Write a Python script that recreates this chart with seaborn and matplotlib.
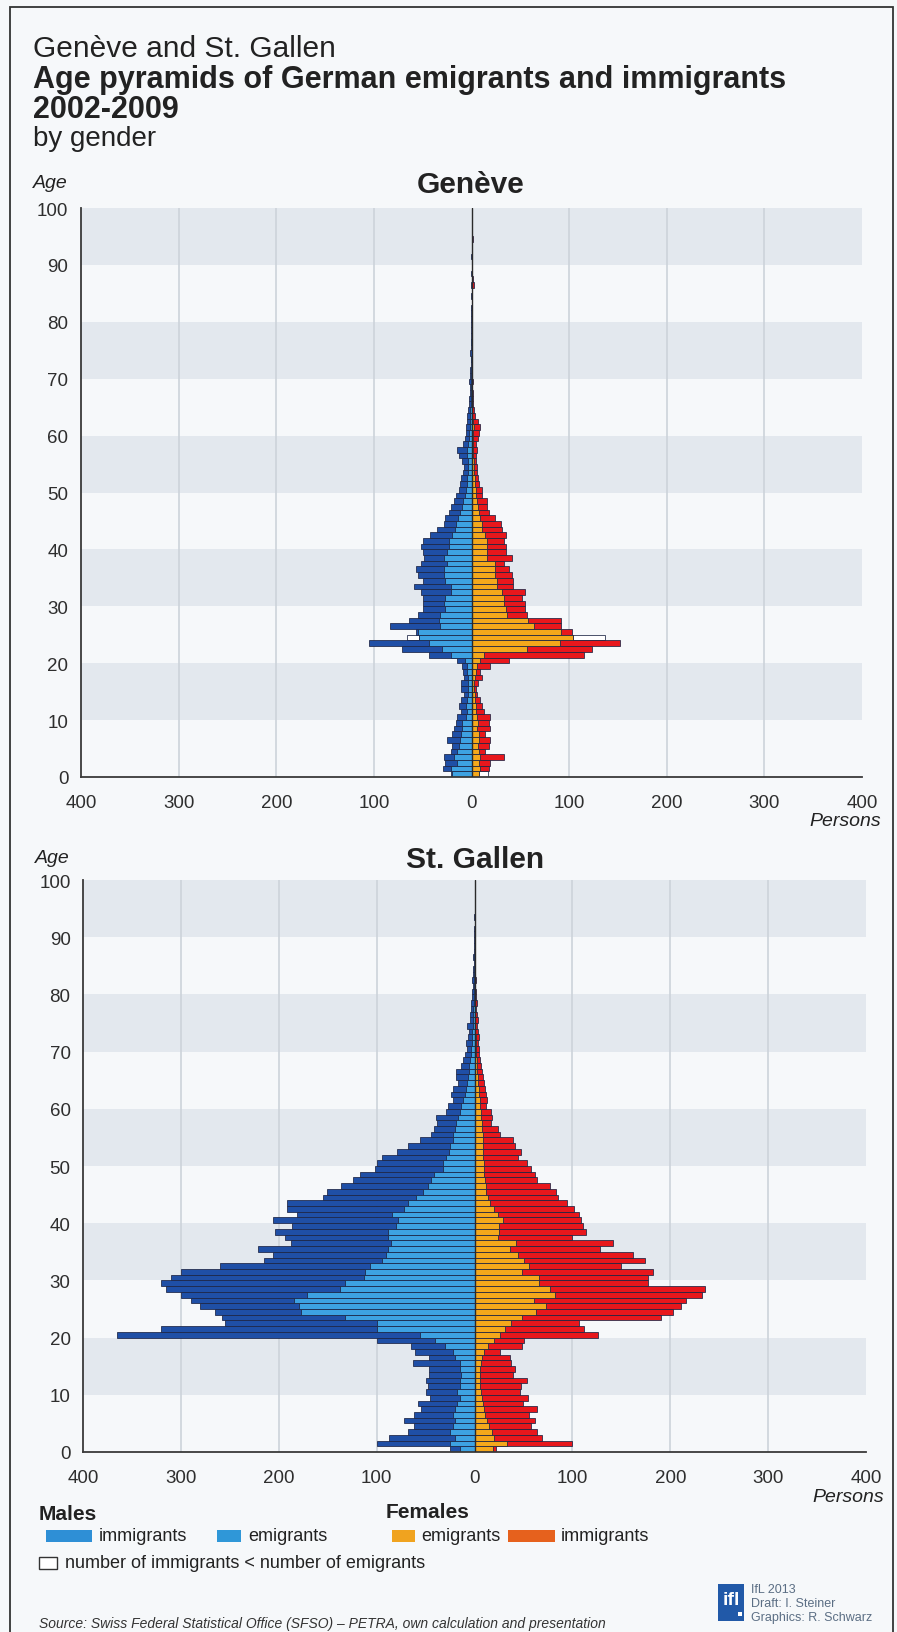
import pandas as pd
import matplotlib.pyplot as plt
import seaborn as sns
from matplotlib.patches import Rectangle

# ---- data: persons by age (0-99) ----
AGES = list(range(100))

# Genève
GE_M_IMM = [21, 29, 27, 28, 21, 20, 25, 20, 18, 16,
            15, 11, 13, 11, 8, 11, 11, 8, 9, 10,
            15, 44, 71, 105, 54, 57, 83, 64, 55, 50,
            50, 50, 52, 59, 50, 55, 57, 52, 49, 50,
            52, 50, 42, 35, 28, 27, 23, 21, 18, 16,
            13, 12, 11, 9, 8, 10, 13, 15, 9, 7,
            6, 6, 5, 5, 4, 3, 3, 2, 2, 3,
            2, 2, 1, 1, 2, 1, 1, 1, 1, 1,
            1, 1, 1, 0, 1, 0, 1, 0, 1, 0,
            0, 1, 0, 0, 0, 0, 0, 0, 0, 0]
GE_M_EMI = [20, 21, 15, 18, 15, 13, 12, 11, 10, 10,
            6, 5, 6, 5, 4, 4, 4, 4, 5, 5,
            7, 21, 30, 44, 66, 55, 32, 33, 32, 27,
            28, 27, 21, 21, 27, 28, 28, 25, 28, 25,
            23, 23, 20, 17, 16, 14, 12, 10, 9, 7,
            6, 5, 5, 4, 4, 4, 5, 5, 4, 3,
            3, 2, 2, 2, 2, 1, 1, 1, 1, 1,
            1, 1, 0, 1, 0, 0, 1, 0, 0, 0,
            0, 0, 0, 0, 0, 0, 0, 0, 0, 0,
            0, 0, 0, 0, 0, 0, 0, 0, 0, 0]
GE_F_EMI = [17, 9, 8, 9, 8, 7, 8, 8, 6, 7,
            6, 5, 5, 4, 4, 3, 3, 4, 5, 6,
            9, 13, 57, 91, 137, 92, 64, 58, 36, 35,
            33, 33, 31, 26, 26, 24, 24, 24, 16, 16,
            16, 16, 14, 11, 11, 9, 8, 7, 6, 5,
            5, 4, 4, 3, 3, 3, 2, 2, 2, 2,
            2, 3, 2, 1, 1, 1, 1, 1, 0, 1,
            0, 1, 0, 0, 0, 0, 0, 0, 0, 0,
            0, 0, 0, 0, 0, 0, 0, 0, 0, 0,
            0, 0, 0, 0, 0, 0, 0, 0, 0, 0]
GE_F_IMM = [8, 18, 19, 33, 14, 18, 19, 14, 19, 18,
            19, 13, 11, 9, 6, 5, 7, 11, 9, 19,
            38, 115, 123, 152, 104, 103, 92, 92, 57, 55,
            55, 52, 55, 43, 43, 41, 38, 33, 41, 35,
            35, 33, 35, 31, 30, 24, 18, 16, 16, 11,
            11, 8, 7, 6, 6, 5, 5, 6, 5, 7,
            8, 9, 7, 4, 3, 2, 2, 2, 1, 2,
            1, 1, 1, 1, 0, 1, 1, 0, 1, 1,
            1, 0, 1, 0, 1, 1, 3, 2, 1, 0,
            1, 0, 1, 1, 2, 0, 0, 0, 0, 0]

# St. Gallen
SG_M_IMM = [25, 100, 87, 68, 62, 72, 62, 55, 58, 45,
            50, 48, 50, 46, 46, 63, 46, 61, 65, 100,
            365, 320, 255, 258, 265, 280, 290, 300, 315, 320,
            310, 300, 260, 215, 206, 221, 187, 194, 204, 186,
            206, 181, 192, 192, 155, 151, 136, 124, 117, 102,
            100, 94, 79, 68, 56, 44, 41, 38, 39, 29,
            27, 22, 24, 22, 17, 19, 19, 14, 12, 10,
            8, 9, 7, 6, 8, 5, 5, 4, 4, 3,
            3, 2, 3, 2, 2, 1, 2, 1, 1, 1,
            1, 1, 0, 1, 0, 0, 0, 0, 0, 0]
SG_M_EMI = [15, 25, 20, 25, 22, 20, 22, 20, 18, 15,
            18, 15, 15, 14, 15, 15, 20, 22, 30, 40,
            56, 100, 100, 132, 177, 179, 184, 171, 137, 132,
            113, 112, 107, 95, 90, 88, 85, 88, 88, 80,
            78, 84, 72, 68, 60, 53, 47, 44, 41, 32,
            32, 29, 26, 25, 22, 22, 20, 19, 17, 15,
            14, 12, 10, 9, 8, 7, 6, 6, 5, 4,
            4, 3, 3, 3, 2, 2, 2, 2, 1, 1,
            1, 1, 1, 1, 1, 0, 1, 0, 0, 0,
            0, 0, 0, 0, 0, 0, 0, 0, 0, 0]
SG_F_EMI = [19, 33, 20, 18, 15, 13, 11, 10, 9, 8,
            7, 6, 6, 6, 6, 7, 8, 10, 14, 20,
            26, 31, 37, 49, 63, 73, 61, 82, 77, 66,
            66, 49, 56, 51, 44, 36, 42, 24, 25, 25,
            29, 24, 20, 16, 14, 12, 12, 11, 10, 10,
            10, 9, 9, 9, 9, 9, 8, 8, 7, 7,
            6, 6, 5, 5, 4, 4, 3, 3, 3, 2,
            2, 2, 2, 1, 1, 1, 1, 1, 1, 0,
            0, 0, 0, 0, 0, 0, 0, 0, 0, 0,
            0, 0, 0, 0, 0, 0, 0, 0, 0, 0]
SG_F_IMM = [22, 100, 69, 64, 58, 62, 56, 64, 50, 55,
            46, 48, 54, 39, 41, 37, 36, 26, 49, 51,
            126, 112, 107, 191, 203, 211, 216, 232, 235, 177,
            177, 182, 150, 174, 162, 128, 141, 100, 114, 111,
            109, 107, 102, 94, 85, 83, 77, 64, 62, 58,
            54, 44, 47, 41, 39, 26, 24, 17, 18, 17,
            12, 13, 12, 11, 10, 9, 8, 7, 6, 5,
            5, 4, 5, 4, 3, 4, 3, 2, 3, 2,
            2, 1, 2, 1, 1, 1, 1, 0, 1, 0,
            0, 1, 0, 0, 0, 0, 0, 0, 0, 0]

X_TICKS = [-400, -300, -200, -100, 0, 100, 200, 300, 400]
Y_TICKS = [0, 10, 20, 30, 40, 50, 60, 70, 80, 90, 100]

# colours
C_M_IMM = "#1f4fa6"
C_M_EMI = "#3da2e2"
C_F_EMI = "#f4a81b"
C_F_IMM = "#e8171c"
EDGE = "#1c2444"
BAND = "#e3e8ee"
BG = "#f6f8fa"
GRID = "#cdd3da"
AXC = "#3a3a3a"

sns.set_style("white")
plt.rcParams["font.family"] = ["Liberation Sans", "DejaVu Sans"]

W, H = 897, 1633
fig = plt.figure(figsize=(W / 100, H / 100), dpi=100, facecolor=BG)


def fx(x):
    return x / W


def fy(y):
    return 1 - y / H


def bars(ax, df, col, sign, color):
    d = df.copy()
    d["x"] = sign * d[col]
    n0 = len(ax.patches)
    sns.barplot(data=d, x="x", y="pos", orient="h", native_scale=True, width=1,
                color=color, saturation=1, edgecolor=EDGE, linewidth=0.55,
                errorbar=None, ax=ax)
    # hide empty bars so their outlines don't show
    for p in ax.patches[n0:]:
        if p.get_width() == 0:
            p.set_visible(False)


def pyramid(ax, m_imm, m_emi, f_emi, f_imm):
    df = pd.DataFrame({"age": AGES, "m_imm": m_imm, "m_emi": m_emi,
                       "f_emi": f_emi, "f_imm": f_imm})
    df["pos"] = df["age"] + 0.5
    ax.set_facecolor(BG)
    for lo in (10, 30, 50, 70, 90):
        ax.axhspan(lo, lo + 10, color=BAND, lw=0, zorder=0)
    for v in (-300, -200, -100, 100, 200, 300):
        ax.axvline(v, color=GRID, lw=1.2, zorder=0.5)

    for imm, emi, sign, c_imm, c_emi in (("m_imm", "m_emi", -1, C_M_IMM, C_M_EMI),
                                          ("f_imm", "f_emi", 1, C_F_IMM, C_F_EMI)):
        # white box where immigrants < emigrants
        df["w"] = df[emi].where(df[emi] > df[imm], 0)
        bars(ax, df, "w", sign, "white")
        bars(ax, df, imm, sign, c_imm)
        df["lo"] = df[[imm, emi]].min(axis=1)
        bars(ax, df, "lo", sign, c_emi)

    ax.axvline(0, color="#2a2a2a", lw=1.0, zorder=5)
    ax.set_xlim(-400, 400)
    ax.set_ylim(0, 100)
    ax.set_xticks(X_TICKS)
    ax.set_xticklabels([str(abs(v)) for v in X_TICKS])
    ax.set_yticks(Y_TICKS)
    ax.set_xlabel("")
    ax.set_ylabel("")
    for s in ("top", "right"):
        ax.spines[s].set_visible(False)
    for s in ("left", "bottom"):
        ax.spines[s].set_color(AXC)
        ax.spines[s].set_linewidth(1.3)
    ax.tick_params(axis="both", direction="out", length=5, width=1.1, color=AXC,
                   labelsize=13.5, labelcolor="#2e2e2e")
    ax.tick_params(axis="x", pad=7)
    ax.tick_params(axis="y", pad=4)


ax_ge = fig.add_axes([fx(81), fy(778), fx(862) - fx(81), fy(209) - fy(778)])
pyramid(ax_ge, GE_M_IMM, GE_M_EMI, GE_F_EMI, GE_F_IMM)
ax_sg = fig.add_axes([fx(83), fy(1453), fx(866) - fx(83), fy(881) - fy(1453)])
pyramid(ax_sg, SG_M_IMM, SG_M_EMI, SG_F_EMI, SG_F_IMM)

# ---- titles ----
TC = "#222222"
fig.text(fx(33), fy(57), "Genève and St. Gallen", fontsize=21.5, color=TC, va="baseline")
fig.text(fx(33), fy(88), "Age pyramids of German emigrants and immigrants",
         fontsize=22, fontweight="bold", color=TC, va="baseline")
fig.text(fx(33), fy(118), "2002-2009", fontsize=22, fontweight="bold", color=TC, va="baseline")
fig.text(fx(33), fy(146), "by gender", fontsize=20, color=TC, va="baseline")

fig.text(fx(33), fy(188), "Age", fontsize=14, style="italic", color=TC, va="baseline")
fig.text(fx(471), fy(193), "Genève", fontsize=21.5, fontweight="bold", color=TC,
         ha="center", va="baseline")
fig.text(fx(881), fy(826), "Persons", fontsize=14, style="italic", color=TC,
         ha="right", va="baseline")

fig.text(fx(35), fy(863), "Age", fontsize=14, style="italic", color=TC, va="baseline")
fig.text(fx(475), fy(868), "St. Gallen", fontsize=21.5, fontweight="bold", color=TC,
         ha="center", va="baseline")
fig.text(fx(884), fy(1502), "Persons", fontsize=14, style="italic", color=TC,
         ha="right", va="baseline")


# ---- legend ----
def frect(x0, y0, x1, y1, **kw):
    fig.patches.append(Rectangle((fx(x0), fy(y1)), fx(x1) - fx(x0), fy(y0) - fy(y1),
                                 transform=fig.transFigure, figure=fig, **kw))


fig.text(fx(39), fy(1515), "Males", fontsize=15, fontweight="bold", color=TC, va="center")
fig.text(fx(386), fy(1513), "Females", fontsize=15, fontweight="bold", color=TC, va="center")

frect(46, 1531, 92, 1543, color="#2e8fd6", lw=0)
fig.text(fx(99), fy(1537), "immigrants", fontsize=13, color=TC, va="center")
frect(217, 1531, 241, 1543, color="#2f97d8", lw=0)
fig.text(fx(248), fy(1537), "emigrants", fontsize=13, color=TC, va="center")
frect(392, 1531, 415, 1543, color="#f0a31f", lw=0)
fig.text(fx(421), fy(1537), "emigrants", fontsize=13, color=TC, va="center")
frect(508, 1531, 555, 1543, color="#e6611d", lw=0)
fig.text(fx(561), fy(1537), "immigrants", fontsize=13, color=TC, va="center")

frect(39, 1558, 57, 1570, facecolor="white", edgecolor="#333333", lw=1)
fig.text(fx(65), fy(1564), "number of immigrants < number of emigrants", fontsize=13, color=TC, va="center")

# ---- footer ----
fig.text(fx(39), fy(1624), "Source: Swiss Federal Statistical Office (SFSO) \u2013 PETRA, own calculation and presentation",
         fontsize=10, style="italic", color="#333333", va="center")
frect(718, 1585, 744, 1622, color="#2159a8", lw=0)
fig.text(fx(731), fy(1601), "ifl", fontsize=14, fontweight="bold", color="white",
         ha="center", va="center")
frect(738, 1613, 742, 1617, color="white", lw=0)
for i, t in enumerate(["IfL 2013", "Draft: I. Steiner", "Graphics: R. Schwarz"]):
    fig.text(fx(751), fy(1590 + 14 * i), t, fontsize=9, color="#5b6e84", va="center")

# page frame
frect(10, 8, 893, 1645, fill=False, edgecolor="#333333", lw=1.3)

fig.savefig("out.png", dpi=100, facecolor=BG)
